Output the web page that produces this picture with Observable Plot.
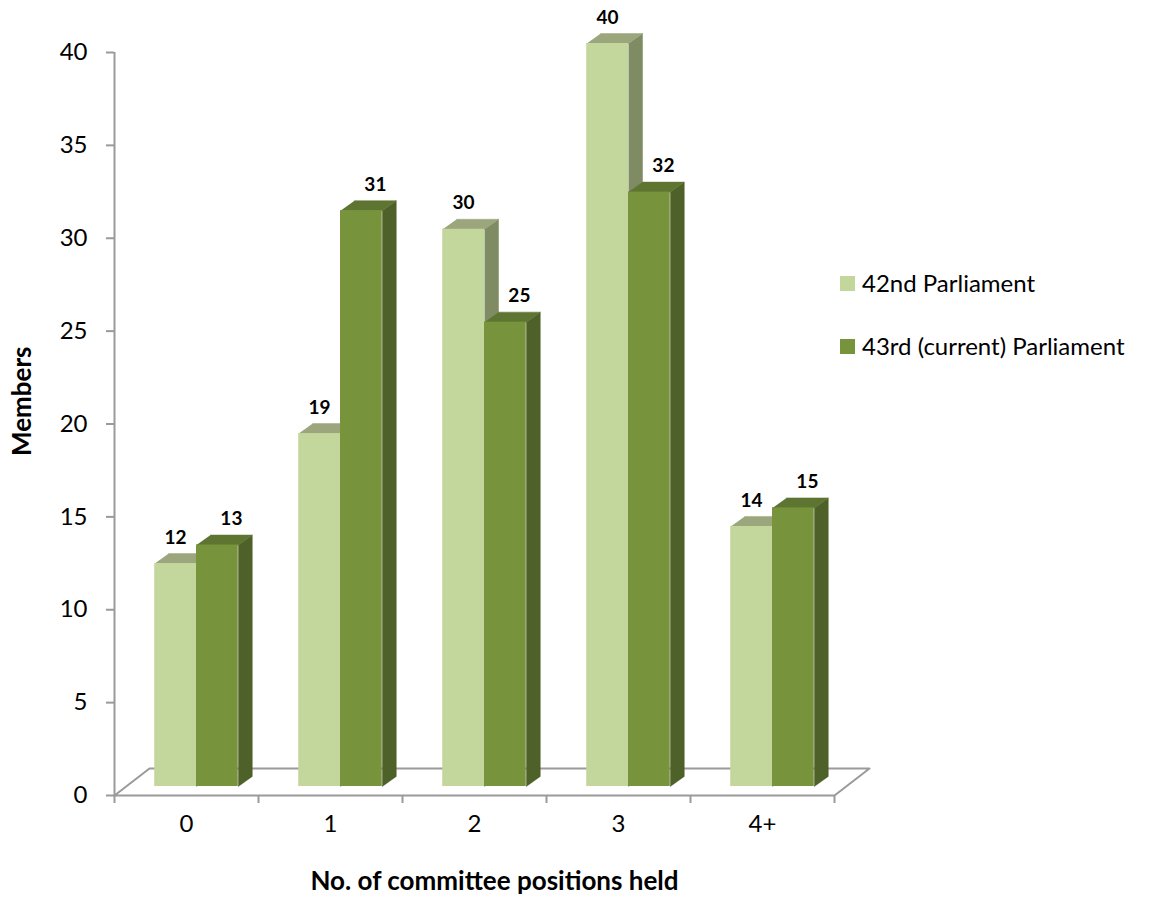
<!DOCTYPE html>
<html>
<head>
<meta charset="utf-8">
<script src="https://cdn.jsdelivr.net/npm/d3@7"></script>
<script src="https://cdn.jsdelivr.net/npm/@observablehq/plot@0.6"></script>
<style>
  body { margin: 0; background: #fff; font-family: Lato, "Open Sans", sans-serif; }
  #wrap { position: relative; width: 1150px; height: 901px; overflow: hidden; }
  #wrap svg { position: absolute; left: 0; top: 0; }
  .legend-item { position: absolute; left: 840px; display: flex; align-items: center; white-space: nowrap; font-size: 24px; color: #000; line-height: 1; }
  .sw { width: 15px; height: 15px; margin-right: 7px; flex: none; }
</style>
</head>
<body>
<div id="wrap"></div>
<script>
// ---- data ----
const categories = ["0", "1", "2", "3", "4+"];
const seriesNames = ["42nd Parliament", "43rd (current) Parliament"];
const parl42 = [12, 19, 30, 40, 14];
const parl43 = [13, 31, 25, 32, 15];
const yTicks = [0, 5, 10, 15, 20, 25, 30, 35, 40];
const yLabel = "Members";
const xLabel = "No. of committee positions held";

// ---- layout / style ----
const W = 1150, H = 901;
const mL = 114, mR = 316, mT = 52, mB = 106;
const xDomain = [-0.5, categories.length - 0.5];
const yDomain = [0, 40];
const pxX = (W - mL - mR) / (xDomain[1] - xDomain[0]);
const pxY = (H - mT - mB) / (yDomain[1] - yDomain[0]);
const barW = 0.29;                 // bar width in category units
const barDepth = [14, 10];         // 3D depth of bars, pixels
const floorDepth = [35, 27];       // 3D depth of floor, pixels
const barShift = [10, -9];         // bars stand a little behind the front edge
const bdx = barDepth[0] / pxX, bdy = barDepth[1] / pxY;
const fdx = floorDepth[0] / pxX, fdy = floorDepth[1] / pxY;
const colors = {
  light: { front: "#C3D69B", top: "#9BA67C", side: "#7F8B62" },
  dark:  { front: "#77933C", top: "#5E7532", side: "#4D6128" }
};
const axisGray = "#9A9A9A";

// ---- derived geometry ----
const bars = [];
categories.forEach((c, i) => {
  bars.push({ key: "light", cat: c, i, x1: i - barW, x2: i, v: parl42[i] });
  bars.push({ key: "dark", cat: c, i, x1: i, x2: i + barW, v: parl43[i] });
});
function topFace(b) {
  return [[b.x1, b.v], [b.x2, b.v], [b.x2 + bdx, b.v + bdy], [b.x1 + bdx, b.v + bdy]]
    .map(([x, y]) => ({ id: b.key + b.i, x, y }));
}
function sideFace(b) {
  return [[b.x2, 0], [b.x2 + bdx, bdy], [b.x2 + bdx, b.v + bdy], [b.x2, b.v]]
    .map(([x, y]) => ({ id: b.key + b.i, x, y }));
}
const light = bars.filter(b => b.key === "light");
const dark = bars.filter(b => b.key === "dark");
const floor = [[xDomain[0], 0], [xDomain[1], 0], [xDomain[1] + fdx, fdy], [xDomain[0] + fdx, fdy], [xDomain[0], 0]]
  .map(([x, y]) => ({ x, y }));
const xBounds = d3.range(categories.length + 1).map(k => k - 0.5);

function barMarks(set, col) {
  return [
    Plot.line(set.flatMap(sideFace), { x: "x", y: "y", z: "id", fill: col.side, stroke: col.side, strokeWidth: 0.5, dx: barShift[0], dy: barShift[1] }),
    Plot.line(set.flatMap(topFace), { x: "x", y: "y", z: "id", fill: col.top, stroke: col.top, strokeWidth: 0.5, dx: barShift[0], dy: barShift[1] }),
    Plot.rect(set, { x1: "x1", x2: "x2", y1: 0, y2: "v", fill: col.front, dx: barShift[0], dy: barShift[1] })
  ];
}

const chart = Plot.plot({
  width: W, height: H,
  marginLeft: mL, marginRight: mR, marginTop: mT, marginBottom: mB,
  style: { fontFamily: "Lato, 'Open Sans', sans-serif", background: "white" },
  x: { type: "linear", domain: xDomain },
  y: { type: "linear", domain: yDomain },
  marks: [
    Plot.line(floor, { x: "x", y: "y", stroke: axisGray, strokeWidth: 2 }),
    Plot.ruleX([xDomain[0]], { y1: yDomain[0], y2: yDomain[1], stroke: axisGray, strokeWidth: 2 }),
    Plot.axisY({ ticks: yTicks, tickSize: 8, tickPadding: 19, fontSize: 24, stroke: axisGray, strokeWidth: 2, fill: "#000", label: null }),
    Plot.axisX({ ticks: xBounds, tickSize: 8, tickFormat: () => "", stroke: axisGray, strokeWidth: 2, label: null }),
    Plot.text(categories, { x: (d, i) => i, frameAnchor: "bottom", dy: 36, text: d => d, fontSize: 24, fill: "#000" }),
    ...barMarks(light, colors.light),
    ...barMarks(dark, colors.dark),
    Plot.text(light, { x: d => (d.x1 + d.x2) / 2, y: "v", text: d => String(d.v), dx: barShift[0], dy: barShift[1] - 26, fontSize: 19, fontWeight: "bold", fill: "#000" }),
    Plot.text(dark, { x: d => (d.x1 + d.x2) / 2, y: "v", text: d => String(d.v), dx: barShift[0] + 14, dy: barShift[1] - 26, fontSize: 19, fontWeight: "bold", fill: "#000" }),
    Plot.text([yLabel], { frameAnchor: "left", rotate: -90, dx: -92, dy: 32, text: d => d, fontSize: 26, fontWeight: "bold", fill: "#000" }),
    Plot.text([xLabel], { frameAnchor: "bottom", dx: 20, dy: 94, text: d => d, fontSize: 26, fontWeight: "bold", fill: "#000" })
  ]
});

const wrap = document.getElementById("wrap");
wrap.appendChild(chart);

// legend
const legendRows = [
  { name: seriesNames[0], color: colors.light.front, cy: 283 },
  { name: seriesNames[1], color: colors.dark.front, cy: 346 }
];
legendRows.forEach(r => {
  const item = document.createElement("div");
  item.className = "legend-item";
  item.style.top = (r.cy - 14) + "px";
  item.style.height = "28px";
  const sw = document.createElement("span");
  sw.className = "sw";
  sw.style.background = r.color;
  const t = document.createElement("span");
  t.textContent = r.name;
  item.appendChild(sw);
  item.appendChild(t);
  wrap.appendChild(item);
});
</script>
</body>
</html>
